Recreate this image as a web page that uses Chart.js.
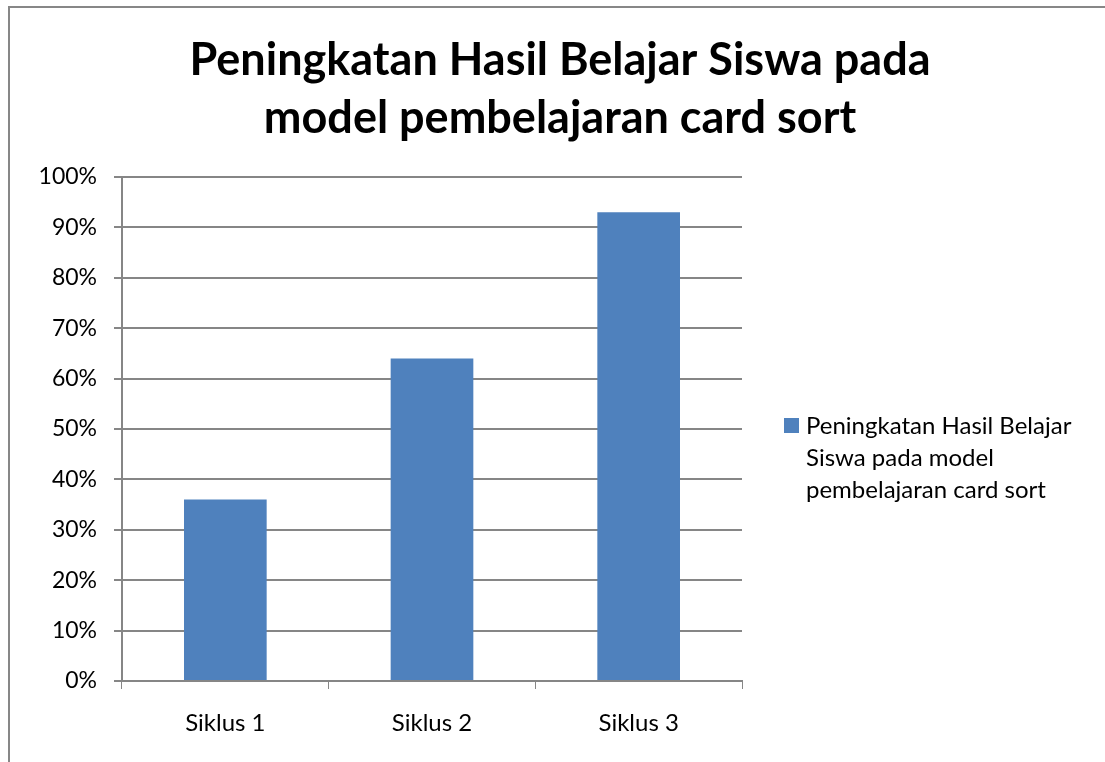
<!DOCTYPE html>
<html>
<head>
<meta charset="utf-8">
<script src="https://cdn.jsdelivr.net/npm/chart.js@4"></script>
<style>
  html, body { margin: 0; padding: 0; background: #fff; }
  #wrap { position: absolute; left: 0; top: 0; width: 1105px; height: 762px; }
  #frame { position: absolute; left: 8px; top: 6px; width: 1105px; height: 770px;
           border-left: 2px solid #878787; border-top: 2px solid #878787; }
</style>
</head>
<body>
<div id="wrap">
  <div id="frame"></div>
  <canvas id="chart" width="1105" height="762"></canvas>
</div>
<script>
const title = ['Peningkatan Hasil Belajar Siswa pada', 'model pembelajaran card sort'];
const seriesName = 'Peningkatan Hasil Belajar Siswa pada model pembelajaran card sort';
const categories = ['Siklus 1', 'Siklus 2', 'Siklus 3'];
const values = [36, 64, 93];
const yTicks = [0, 10, 20, 30, 40, 50, 60, 70, 80, 90, 100];

const font = 'Lato';
const gridColor = '#868686';
const barColor = '#4F81BD';

// legend with wrapped text, drawn to the right of the plot
const wrapLegend = {
    id: 'wrapLegend',
    afterDraw(chart) {
        const ctx = chart.ctx;
        const ds = chart.data.datasets[0];
        ctx.save();
        ctx.font = '24px ' + font;
        const words = ds.label.split(' ');
        const lines = [];
        let line = '';
        words.forEach(w => {
            const test = line ? line + ' ' + w : w;
            if (ctx.measureText(test).width > 285 && line) {
                lines.push(line);
                line = w;
            } else line = test;
        });
        lines.push(line);
        const x = chart.chartArea.right + 42, y0 = 418;
        ctx.fillStyle = ds.backgroundColor;
        ctx.fillRect(x, y0, 15, 15);
        ctx.fillStyle = '#000';
        ctx.textBaseline = 'alphabetic';
        lines.forEach((l, i) => ctx.fillText(l, x + 22, y0 + 16 + i * 32));
        ctx.restore();
    }
};

new Chart(document.getElementById('chart'), {
    type: 'bar',
    data: {
        labels: categories,
        datasets: [{
            label: seriesName,
            data: values,
            backgroundColor: barColor,
            barPercentage: 0.4,
            categoryPercentage: 1,
            yAxisID: 'y'
        }]
    },
    options: {
        responsive: false,
        animation: false,
        layout: { padding: { left: 15, top: 31, right: 0, bottom: 0 } },
        plugins: {
            legend: { display: false },
            tooltip: { enabled: false },
            title: {
                display: true,
                text: title,
                color: '#000',
                font: { family: font, size: 45, weight: 'bold', lineHeight: 1.3 },
                padding: { top: 0, bottom: 29 }
            }
        },
        scales: {
            x: {
                grid: { display: true, drawOnChartArea: false, drawTicks: true, tickLength: 8, color: gridColor, offset: true },
                border: { color: gridColor, width: 2 },
                ticks: { color: '#000', font: { family: font, size: 24 }, padding: 20 },
                afterFit(s) { s.height = 81; }
            },
            y: {
                min: 0,
                max: 100,
                afterBuildTicks(s) { s.ticks = yTicks.map(v => ({ value: v })); },
                grid: { color: gridColor, lineWidth: 2, tickLength: 8 },
                border: { color: gridColor, width: 2 },
                ticks: { color: '#000', font: { family: font, size: 23 }, padding: 17, callback: v => v + '%' },
                afterFit(s) { s.width = 107; }
            },
            side: {
                position: 'right',
                display: true,
                grid: { display: false },
                border: { display: false },
                ticks: { display: false },
                afterFit(s) { s.width = 363; }
            }
        }
    },
    plugins: [wrapLegend]
});
</script>
</body>
</html>
